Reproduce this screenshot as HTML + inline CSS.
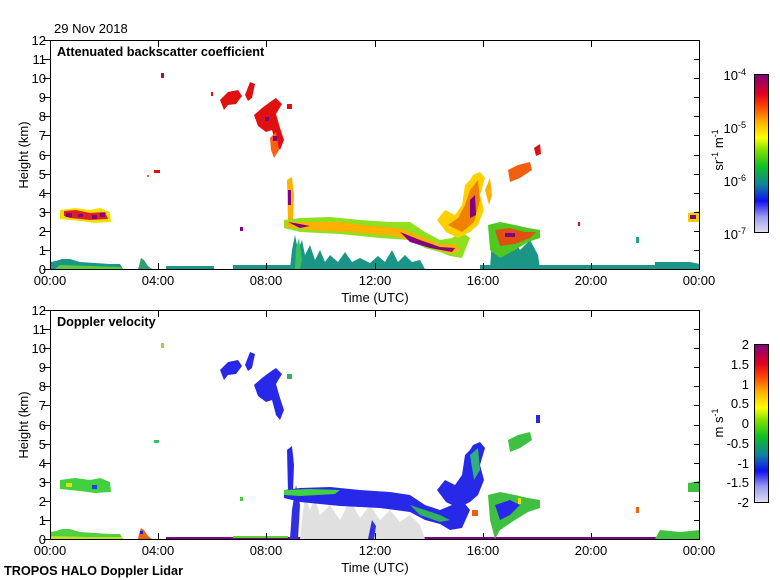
<!DOCTYPE html>
<html><head><meta charset="utf-8"><style>
body{margin:0;background:#fff}
svg{display:block;font-family:"Liberation Sans",sans-serif;font-size:13px}
.b{font-weight:bold;font-size:12.7px}
</style></head><body>
<svg width="780" height="580" viewBox="0 0 780 580" xmlns="http://www.w3.org/2000/svg">
<defs>
<linearGradient id="cm" x1="0" y1="1" x2="0" y2="0">
<stop offset="0" stop-color="#e2def0"/><stop offset="0.1" stop-color="#9a9af0"/><stop offset="0.2" stop-color="#1010f0"/>
<stop offset="0.3" stop-color="#1080a0"/><stop offset="0.42" stop-color="#10c020"/><stop offset="0.52" stop-color="#80e000"/>
<stop offset="0.6" stop-color="#ffff00"/><stop offset="0.7" stop-color="#ffb000"/><stop offset="0.8" stop-color="#ff4000"/>
<stop offset="0.88" stop-color="#e00020"/><stop offset="1" stop-color="#800080"/></linearGradient>
</defs>
<text x="54" y="33">29 Nov 2018</text>

<!-- ===== TOP PANEL DATA ===== -->
<g>
<polygon points="50,269 50,262 56,261 62,259 70,259 80,262 95,263 110,264 120,264 123,269" fill="#1b9585"/>
<polygon points="55,269 60,265 90,266 120,267 123,269" fill="#5acc3a"/>
<polygon points="138,269 139,266 141,258 144,260 148,266 152,269" fill="#30a070"/>
<rect x="166" y="266" width="48" height="3" fill="#1b9585"/>
<rect x="233" y="265" width="55" height="4" fill="#1b9585"/>
<rect x="283" y="265" width="130" height="4" fill="#1b9585"/>
<rect x="480" y="265" width="220" height="4" fill="#1b9585"/>
<polygon points="655,269 655,262 690,262 700,264 700,269" fill="#1b9585"/>
<polygon points="290,269 292,250 295,235 298,250 302,240 305,255 310,245 315,260 320,250 325,262 330,255 338,262 345,252 352,262 360,258 370,263 378,256 385,262 392,250 398,262 405,255 412,262 420,260 425,269" fill="#1b9585"/>
<polygon points="295,269 296,248 299,238 302,260 300,269" fill="#3bc060"/>
<polygon points="490,269 492,240 498,232 505,245 512,236 520,250 530,240 538,255 540,269" fill="#1b9585"/>
<polygon points="60,210 75,208 90,210 100,208 110,212 111,222 95,223 80,221 60,219" fill="#f0e000"/>
<polygon points="64,211 76,210 90,213 105,212 108,219 90,220 70,218 64,216" fill="#e02020"/>
<rect x="66" y="213" width="6" height="4" fill="#800080"/><rect x="78" y="214" width="5" height="3" fill="#800080"/>
<rect x="92" y="215" width="5" height="4" fill="#800080"/><rect x="100" y="213" width="5" height="4" fill="#800080"/>
<polygon points="220,100 228,92 238,90 242,96 236,104 228,105 224,110" fill="#e01010"/>
<polygon points="245,95 250,82 255,84 252,98 248,101" fill="#e01010"/>
<polygon points="254,115 262,108 270,102 276,98 282,104 276,114 280,128 284,140 280,150 276,145 272,130 266,132 258,126" fill="#e01010"/>
<polygon points="270,138 276,132 279,150 274,158 271,150" fill="#ff6010"/>
<rect x="265" y="117" width="4" height="4" fill="#800080"/><rect x="273" y="136" width="4" height="5" fill="#800080"/>
<rect x="287" y="104" width="5" height="5" fill="#e01010"/>
<rect x="211" y="92" width="2" height="4" fill="#e01010"/>
<rect x="161" y="73" width="3" height="5" fill="#a01040"/>
<rect x="154" y="170" width="6" height="3" fill="#e01010"/><rect x="147" y="175" width="2" height="2" fill="#ff6010"/>
<rect x="240" y="227" width="3" height="4" fill="#800080"/>
<polygon points="287,180 292,177 294,195 293,220 288,222" fill="#ffb000"/>
<rect x="288" y="190" width="3" height="15" fill="#800080"/>
<polygon points="284,220 300,218 330,217 360,220 390,222 410,222 425,232 440,240 452,238 462,232 470,238 462,258 450,256 440,252 425,248 410,240 380,238 340,234 300,232 284,228" fill="#90e020"/>
<polygon points="286,222 310,222 340,222 370,226 400,228 420,236 440,244 455,244 460,250 452,254 438,250 420,244 395,236 350,232 310,230 286,227" fill="#ffb000"/>
<polygon points="288,222 300,224 310,226 300,228" fill="#800080"/>
<polygon points="400,232 420,240 440,247 455,248 452,252 430,248 410,242" fill="#800080"/>
<polygon points="437,220 445,210 455,215 462,205 465,185 470,180 473,175 480,172 485,178 480,195 484,210 478,225 470,232 458,238 446,232" fill="#ffd000"/>
<polygon points="448,225 458,218 465,205 470,190 478,180 480,200 474,222 462,232" fill="#f08000"/>
<polygon points="470,200 475,195 476,215 470,218" fill="#800080"/>
<polygon points="485,190 490,178 492,195 489,205" fill="#ffb000"/>
<polygon points="488,225 500,222 515,225 528,228 540,230 540,238 528,242 515,250 500,258 490,250" fill="#50c820"/>
<polygon points="495,230 510,228 525,232 536,232 530,238 515,244 500,246" fill="#e05010"/>
<rect x="505" y="233" width="10" height="4" fill="#800080"/>
<polygon points="508,170 518,165 530,162 532,170 520,178 510,182" fill="#f06010"/>
<polygon points="534,148 540,144 541,154 536,156" fill="#e01010"/>
<polygon points="688,213 700,211 700,222 688,222" fill="#f0d000"/>
<rect x="690" y="215" width="6" height="4" fill="#800080"/>
<rect x="636" y="237" width="3" height="6" fill="#20a090"/>
<rect x="578" y="222" width="2" height="4" fill="#e01010"/>
</g>

<!-- ===== BOTTOM PANEL DATA ===== -->
<g>
<polygon points="50,539 50,532 56,531 62,529 70,529 80,532 95,533 110,534 120,534 123,539" fill="#50d040"/>
<polygon points="50,536 90,537 122,537 123,539 50,539" fill="#c0e020"/>
<polygon points="138,539 139,534 141,528 144,530 148,536 152,539" fill="#f06010"/>
<rect x="140" y="531" width="3" height="3" fill="#2020e0"/>
<rect x="166" y="537" width="534" height="2" fill="#800080"/>
<rect x="233" y="536" width="55" height="2" fill="#60d030"/>
<polygon points="300,539 302,520 305,495 310,510 315,498 320,515 330,505 340,520 350,500 360,518 370,505 380,520 390,510 400,522 410,515 420,525 425,539" fill="#e0e0e0"/>
<polygon points="290,539 292,510 296,485 300,505 298,539" fill="#3030e0"/>
<polygon points="368,539 372,520 376,526 374,539" fill="#3030e0"/>
<polygon points="60,480 75,478 90,480 100,478 110,482 111,492 95,493 80,491 60,489" fill="#40d040"/>
<rect x="66" y="483" width="6" height="4" fill="#f0e000"/><rect x="92" y="485" width="5" height="4" fill="#2040e0"/>
<polygon points="220,370 228,362 238,360 242,366 236,374 228,375 224,380" fill="#2828e8"/>
<polygon points="245,365 250,352 255,354 252,368 248,371" fill="#2828e8"/>
<polygon points="254,385 262,378 270,372 276,368 282,374 276,384 280,398 284,410 280,420 276,415 272,400 266,402 258,396" fill="#2828e8"/>
<rect x="287" y="374" width="5" height="5" fill="#30b060"/>
<rect x="161" y="343" width="3" height="5" fill="#c0c040"/>
<rect x="154" y="440" width="5" height="3" fill="#30c060"/>
<rect x="240" y="497" width="3" height="4" fill="#40d040"/>
<polygon points="287,450 292,446 294,465 293,490 288,492" fill="#2828e8"/>
<polygon points="284,490 300,488 330,487 360,490 390,492 410,495 425,505 440,510 452,505 462,500 470,510 462,528 450,530 440,524 425,520 410,512 380,508 340,506 300,502 284,498" fill="#2828e8"/>
<polygon points="284,490 310,489 340,490 335,494 300,496 284,495" fill="#40d040"/>
<polygon points="410,505 425,510 440,515 450,520 440,522 420,515" fill="#30b060"/>
<polygon points="437,490 445,480 455,485 462,475 465,455 470,450 473,445 480,442 485,448 480,465 484,480 478,495 470,502 458,508 446,502" fill="#2828e8"/>
<polygon points="470,455 478,448 480,470 474,480" fill="#30b080"/>
<polygon points="488,495 500,492 515,495 528,498 540,500 540,508 528,512 515,520 500,530 495,539 490,520" fill="#40c040"/>
<polygon points="495,505 510,500 520,505 510,515 500,520" fill="#2828e8"/>
<rect x="518" y="498" width="3" height="6" fill="#f0e000"/>
<polygon points="508,440 518,435 530,432 532,440 520,448 510,452" fill="#40c040"/>
<rect x="536" y="415" width="4" height="8" fill="#2828e8"/>
<rect x="472" y="510" width="6" height="6" fill="#f06010"/>
<polygon points="688,483 700,481 700,492 688,492" fill="#40c040"/>
<rect x="636" y="507" width="3" height="6" fill="#f06010"/>
<polygon points="655,539 660,530 680,532 700,530 700,539" fill="#40c040"/>
</g>

<!-- ===== AXES ===== -->
<g stroke="#000" stroke-width="1" fill="none">
<rect x="50.5" y="40.5" width="649" height="229"/>
<rect x="50.5" y="310.5" width="649" height="229"/>
</g>
<g stroke="#000" stroke-width="1">
<path d="M43 269.5H50M43 250.5H50M43 231.5H50M43 212.5H50M43 193.5H50M43 174.5H50M43 155.5H50M43 135.5H50M43 116.5H50M43 97.5H50M43 78.5H50M43 59.5H50M43 40.5H50"/>
<path d="M694 250.5H700M694 231.5H700M694 212.5H700M694 193.5H700M694 174.5H700M694 155.5H700M694 135.5H700M694 116.5H700M694 97.5H700M694 78.5H700M694 59.5H700"/>
<path d="M158.5 269V263M266.5 269V263M375.5 269V263M483.5 269V263M591.5 269V263M158.5 41V47M266.5 41V47M375.5 41V47M483.5 41V47M591.5 41V47"/>
<path d="M43 539.5H50M43 520.5H50M43 501.5H50M43 482.5H50M43 463.5H50M43 444.5H50M43 425.5H50M43 405.5H50M43 386.5H50M43 367.5H50M43 348.5H50M43 329.5H50M43 310.5H50"/>
<path d="M694 520.5H700M694 501.5H700M694 482.5H700M694 463.5H700M694 444.5H700M694 425.5H700M694 405.5H700M694 386.5H700M694 367.5H700M694 348.5H700M694 329.5H700"/>
<path d="M158.5 539V533M266.5 539V533M375.5 539V533M483.5 539V533M591.5 539V533M158.5 311V317M266.5 311V317M375.5 311V317M483.5 311V317M591.5 311V317"/>
</g>
<g text-anchor="end">
<text x="46" y="274">0</text><text x="46" y="255">1</text><text x="46" y="236">2</text><text x="46" y="217">3</text><text x="46" y="198">4</text><text x="46" y="179">5</text><text x="46" y="160">6</text><text x="46" y="140">7</text><text x="46" y="121">8</text><text x="46" y="102">9</text><text x="46" y="83">10</text><text x="46" y="64">11</text><text x="46" y="45">12</text>
<text x="46" y="544">0</text><text x="46" y="525">1</text><text x="46" y="506">2</text><text x="46" y="487">3</text><text x="46" y="468">4</text><text x="46" y="449">5</text><text x="46" y="430">6</text><text x="46" y="410">7</text><text x="46" y="391">8</text><text x="46" y="372">9</text><text x="46" y="353">10</text><text x="46" y="334">11</text><text x="46" y="315">12</text>
</g>
<g text-anchor="middle">
<text x="50" y="285">00:00</text><text x="158" y="285">04:00</text><text x="266" y="285">08:00</text><text x="375" y="285">12:00</text><text x="483" y="285">16:00</text><text x="591" y="285">20:00</text><text x="699" y="285">00:00</text>
<text x="375" y="302">Time (UTC)</text>
<text x="50" y="555">00:00</text><text x="158" y="555">04:00</text><text x="266" y="555">08:00</text><text x="375" y="555">12:00</text><text x="483" y="555">16:00</text><text x="591" y="555">20:00</text><text x="699" y="555">00:00</text>
<text x="375" y="572">Time (UTC)</text>
<text transform="translate(28 155) rotate(-90)">Height (km)</text>
<text transform="translate(28 425) rotate(-90)">Height (km)</text>
</g>
<text x="57" y="56" class="b">Attenuated backscatter coefficient</text>
<text x="57" y="326" class="b">Doppler velocity</text>
<text x="4" y="575" class="b">TROPOS HALO Doppler Lidar</text>

<rect x="754.5" y="74.5" width="14" height="158" fill="url(#cm)" stroke="#000"/>
<rect x="754.5" y="344.5" width="14" height="158" fill="url(#cm)" stroke="#000"/>
<g text-anchor="end">
<text x="746" y="80">10<tspan dy="-5" font-size="9">-4</tspan></text>
<text x="746" y="133">10<tspan dy="-5" font-size="9">-5</tspan></text>
<text x="746" y="186">10<tspan dy="-5" font-size="9">-6</tspan></text>
<text x="746" y="239">10<tspan dy="-5" font-size="9">-7</tspan></text>
<text x="749" y="349">2</text><text x="749" y="369">1.5</text><text x="749" y="389">1</text><text x="749" y="408">0.5</text><text x="749" y="428">0</text><text x="749" y="448">-0.5</text><text x="749" y="468">-1</text><text x="749" y="487">-1.5</text><text x="749" y="507">-2</text>
</g>
<text transform="translate(723 150) rotate(-90)" text-anchor="middle">sr<tspan dy="-5" font-size="9">-1</tspan><tspan dy="5"> m</tspan><tspan dy="-5" font-size="9">-1</tspan></text>
<text transform="translate(723 423) rotate(-90)" text-anchor="middle">m s<tspan dy="-5" font-size="9">-1</tspan></text>
</svg>
</body></html>
